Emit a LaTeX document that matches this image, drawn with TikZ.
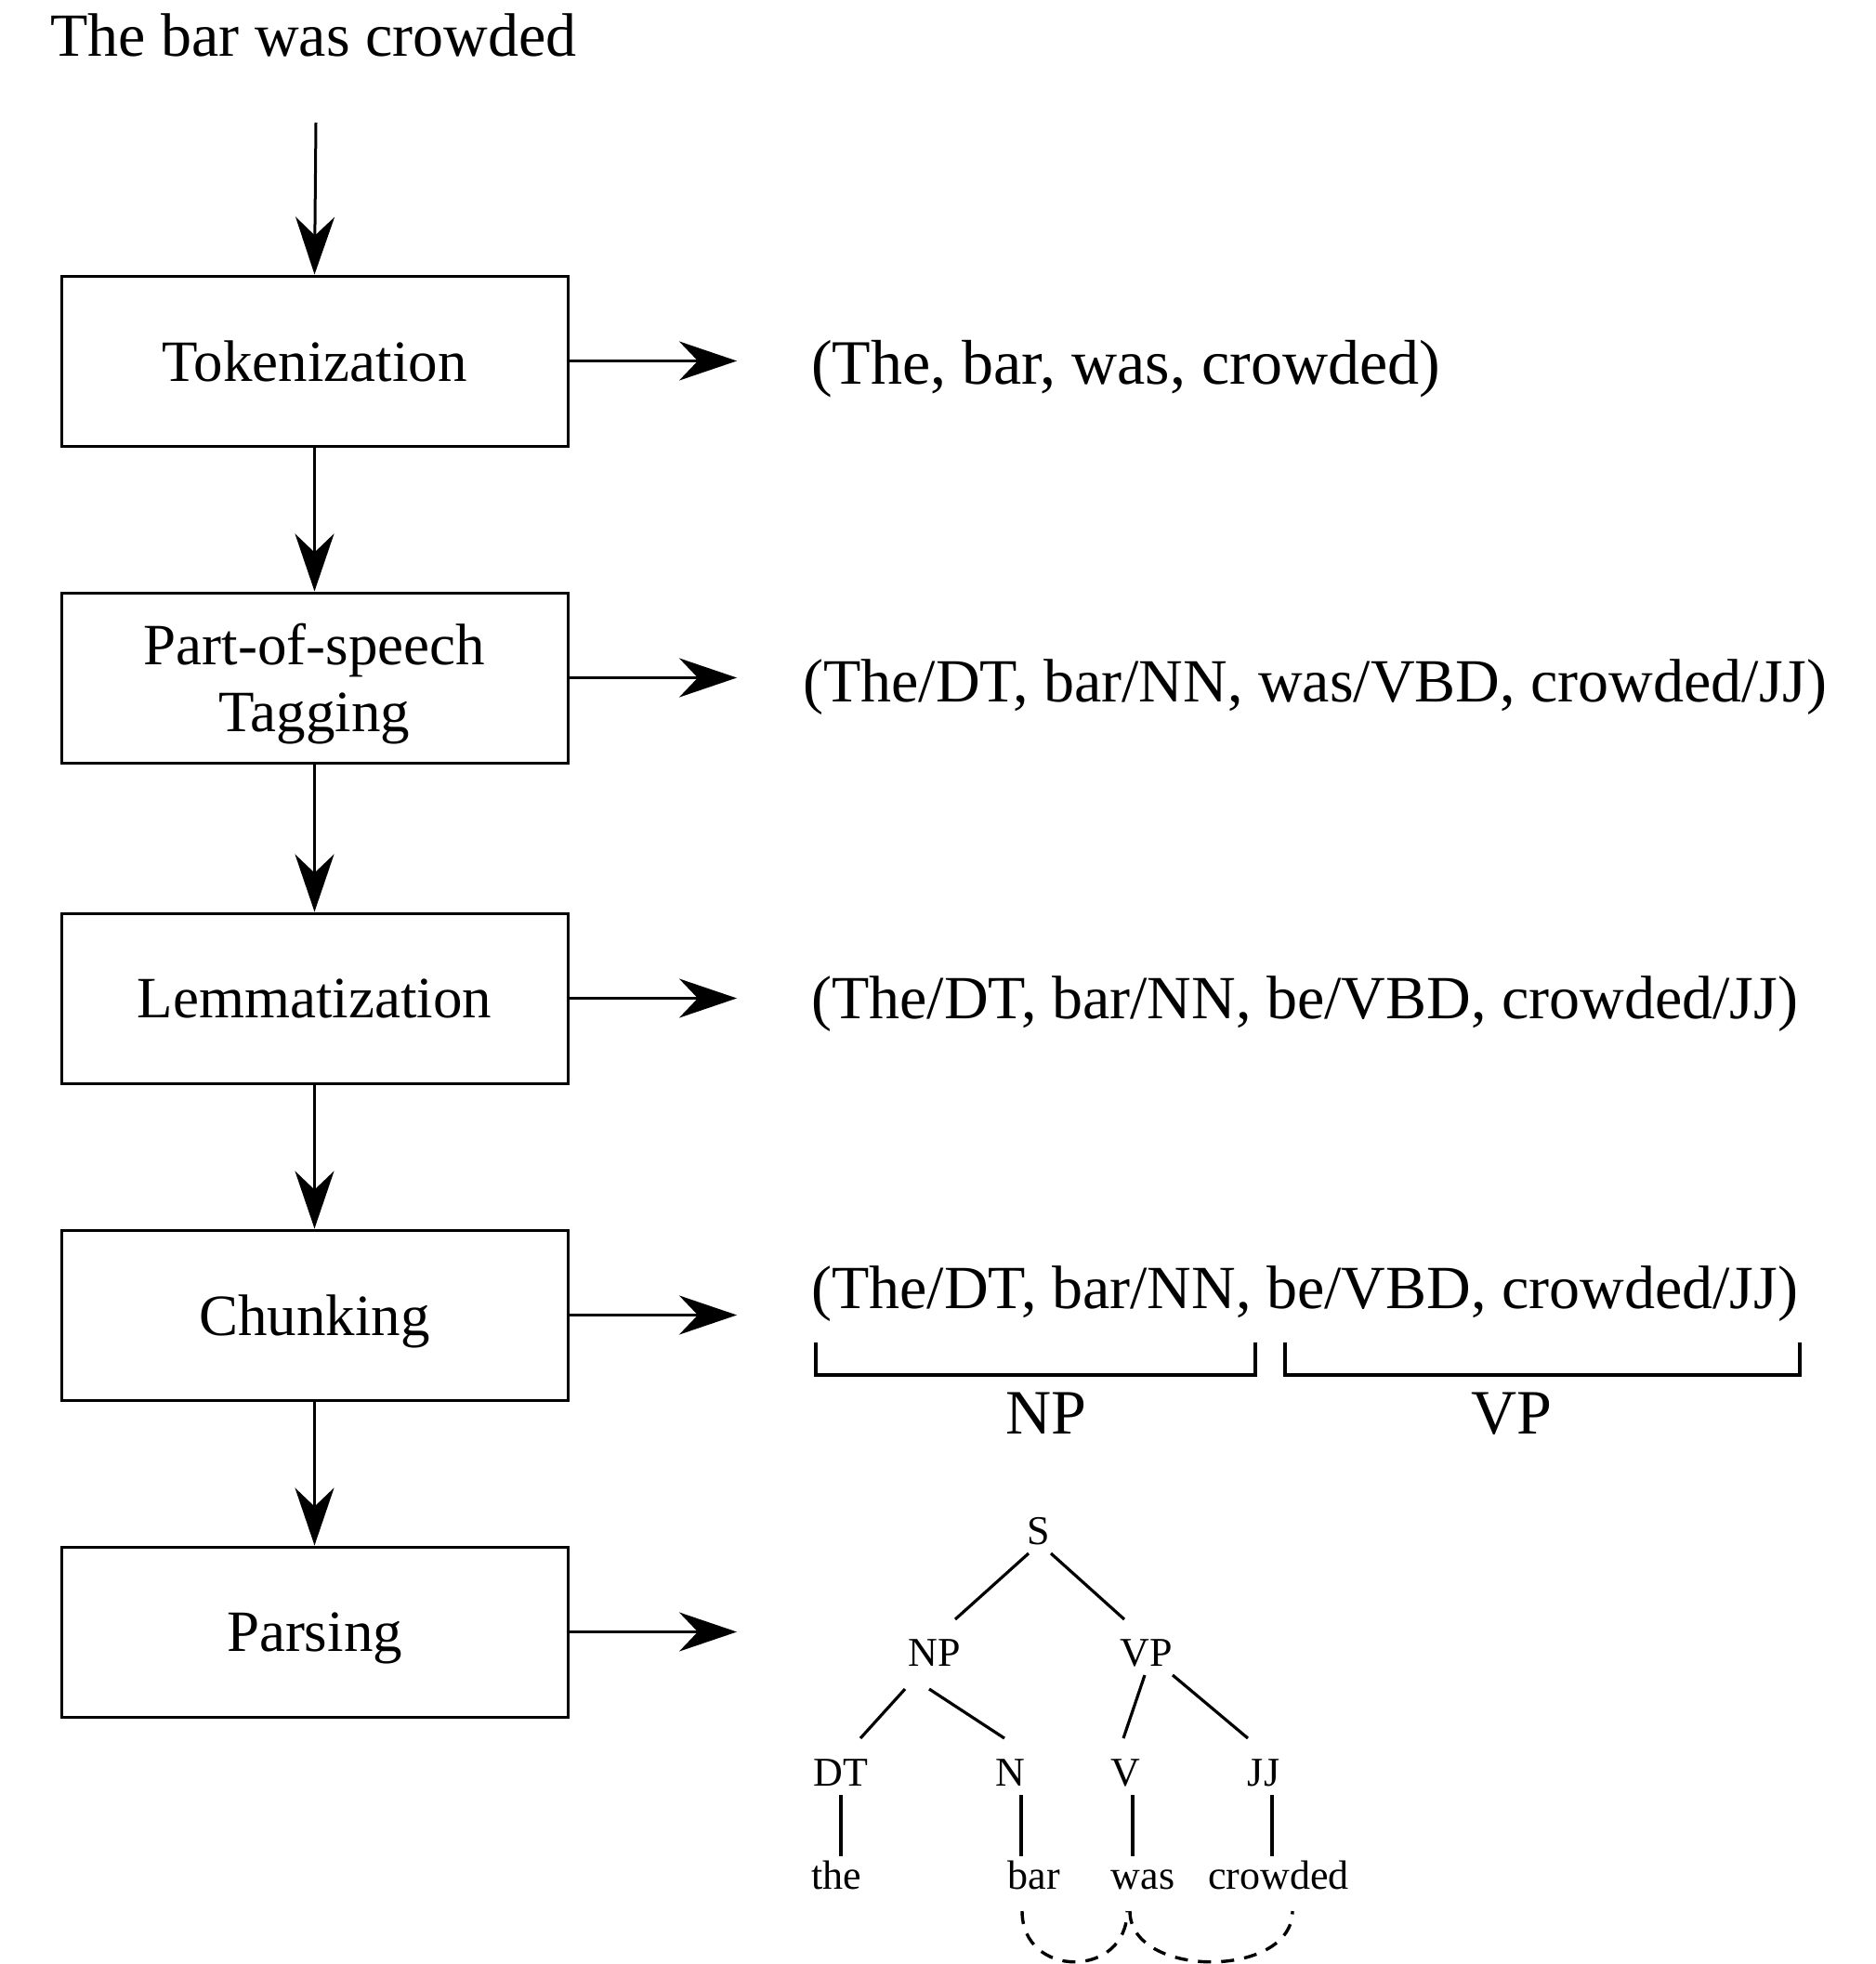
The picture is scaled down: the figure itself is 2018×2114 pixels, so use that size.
\documentclass[tikz,border=0pt]{standalone}
\usepackage{fontspec}
\setmainfont{Liberation Serif}
\usetikzlibrary{arrows.meta}
\begin{document}
\begin{tikzpicture}[x=1pt,y=-1pt,
  box/.style={draw, line width=3pt, minimum width=545pt, minimum height=183pt, inner sep=0pt, align=center, text depth=0pt, font=\fontsize{63}{72}\selectfont},
  outtxt/.style={anchor=base west, inner sep=0pt, font=\fontsize{66}{78}\selectfont},
  lbl/.style={anchor=base, inner sep=0pt, font=\fontsize{68}{78}\selectfont},
  tr/.style={anchor=base, inner sep=0pt, font=\fontsize{44}{50}\selectfont},
  arr/.style={line width=3pt, -{Stealth[length=62pt,width=42pt,inset=20pt]}},
  ln/.style={line width=3.2pt},
  dsh/.style={line width=3.4pt, dash pattern=on 14pt off 11pt}]
\useasboundingbox (0,0) rectangle (2018,2114);

% title
\node[anchor=base west, inner sep=0pt, font=\fontsize{66}{78}\selectfont] (title) at (54,61) {The bar was crowded};
\coordinate (in) at (340,132);

% boxes
\node[box] (b1) at (338.5,388.5) {Tokenization};
\node[box] (b2) at (338.5,729.5) {Part-of-speech\\Tagging};
\node[box] (b3) at (338.5,1074.5) {Lemmatization};
\node[box] (b4) at (338.5,1415.5) {Chunking};
\node[box] (b5) at (338.5,1756.5) {Parsing};

\draw[arr] (in) -- (b1.north);
\draw[arr] (b1) -- (b2);
\draw[arr] (b2) -- (b3);
\draw[arr] (b3) -- (b4);
\draw[arr] (b4) -- (b5);

% right arrows
\coordinate (e1) at (793,388.5);
\coordinate (e2) at (793,729.5);
\coordinate (e3) at (793,1074.5);
\coordinate (e4) at (793,1415.5);
\coordinate (e5) at (793,1756.5);
\draw[arr] (b1.east) -- (e1);
\draw[arr] (b2.east) -- (e2);
\draw[arr] (b3.east) -- (e3);
\draw[arr] (b4.east) -- (e4);
\draw[arr] (b5.east) -- (e5);

% outputs
\node[outtxt, font=\fontsize{68}{78}\selectfont] (o1) at (873,413) {(The, bar, was, crowded)};
\node[outtxt] (o2) at (864,755) {(The/DT, bar/NN, was/VBD, crowded/JJ)};
\node[outtxt] (o3) at (873,1096) {(The/DT, bar/NN, be/VBD, crowded/JJ)};
\node[outtxt] (o4) at (873,1408) {(The/DT, bar/NN, be/VBD, crowded/JJ)};

% chunk brackets
\draw[ln] (878,1445) -- (878,1480) -- (1351,1480) -- (1351,1445);
\draw[ln] (1383,1445) -- (1383,1480) -- (1937,1480) -- (1937,1445);
\node[lbl] (np) at (1126,1543) {NP};
\node[lbl] (vp) at (1627,1543) {VP};

% parse tree
\node[tr] (S) at (1118,1662) {S};
\node[tr] (NP) at (1006,1793) {NP};
\node[tr] (VP) at (1234,1793) {VP};
\node[tr] (DT) at (905,1922) {DT};
\node[tr] (N) at (1087,1922) {N};
\node[tr] (V) at (1211,1922) {V};
\node[tr] (JJ) at (1360,1922) {JJ};
\node[tr] (the) at (900,2033) {the};
\node[tr] (bar) at (1113,2033) {bar};
\node[tr] (was) at (1230,2033) {was};
\node[tr] (crowded) at (1376,2033) {crowded};

\draw[ln] ([shift={(-11,10)}]S.base) -- ([shift={(22,-50)}]NP.base);
\draw[ln] ([shift={(13,10)}]S.base) -- ([shift={(-24,-50)}]VP.base);
\draw[ln] ([shift={(-32,25)}]NP.base) -- ([shift={(21,-51)}]DT.base);
\draw[ln] ([shift={(-6,25)}]NP.base) -- ([shift={(-6,-51)}]N.base);
\draw[ln] ([shift={(-2,10)}]VP.base) -- ([shift={(-2,-51)}]V.base);
\draw[ln] ([shift={(28,10)}]VP.base) -- ([shift={(-17,-51)}]JJ.base);
\draw[ln] ([shift={(0,10)}]DT.base) -- ([shift={(5,-35)}]the.base);
\draw[ln] ([shift={(12,10)}]N.base) -- ([shift={(-14,-35)}]bar.base);
\draw[ln] ([shift={(8,10)}]V.base) -- ([shift={(-11,-35)}]was.base);
\draw[ln] ([shift={(9,10)}]JJ.base) -- ([shift={(-7,-35)}]crowded.base);

% dependency arcs
\draw[dsh] ([shift={(-13,24)}]bar.base) .. controls ([shift={(-13,97)}]bar.base) and ([shift={(-17,97)}]was.base) .. ([shift={(-17,24)}]was.base);
\draw[dsh] ([shift={(-14,24)}]was.base) .. controls ([shift={(-14,97)}]was.base) and ([shift={(15,97)}]crowded.base) .. ([shift={(15,24)}]crowded.base);
\end{tikzpicture}
\end{document}
